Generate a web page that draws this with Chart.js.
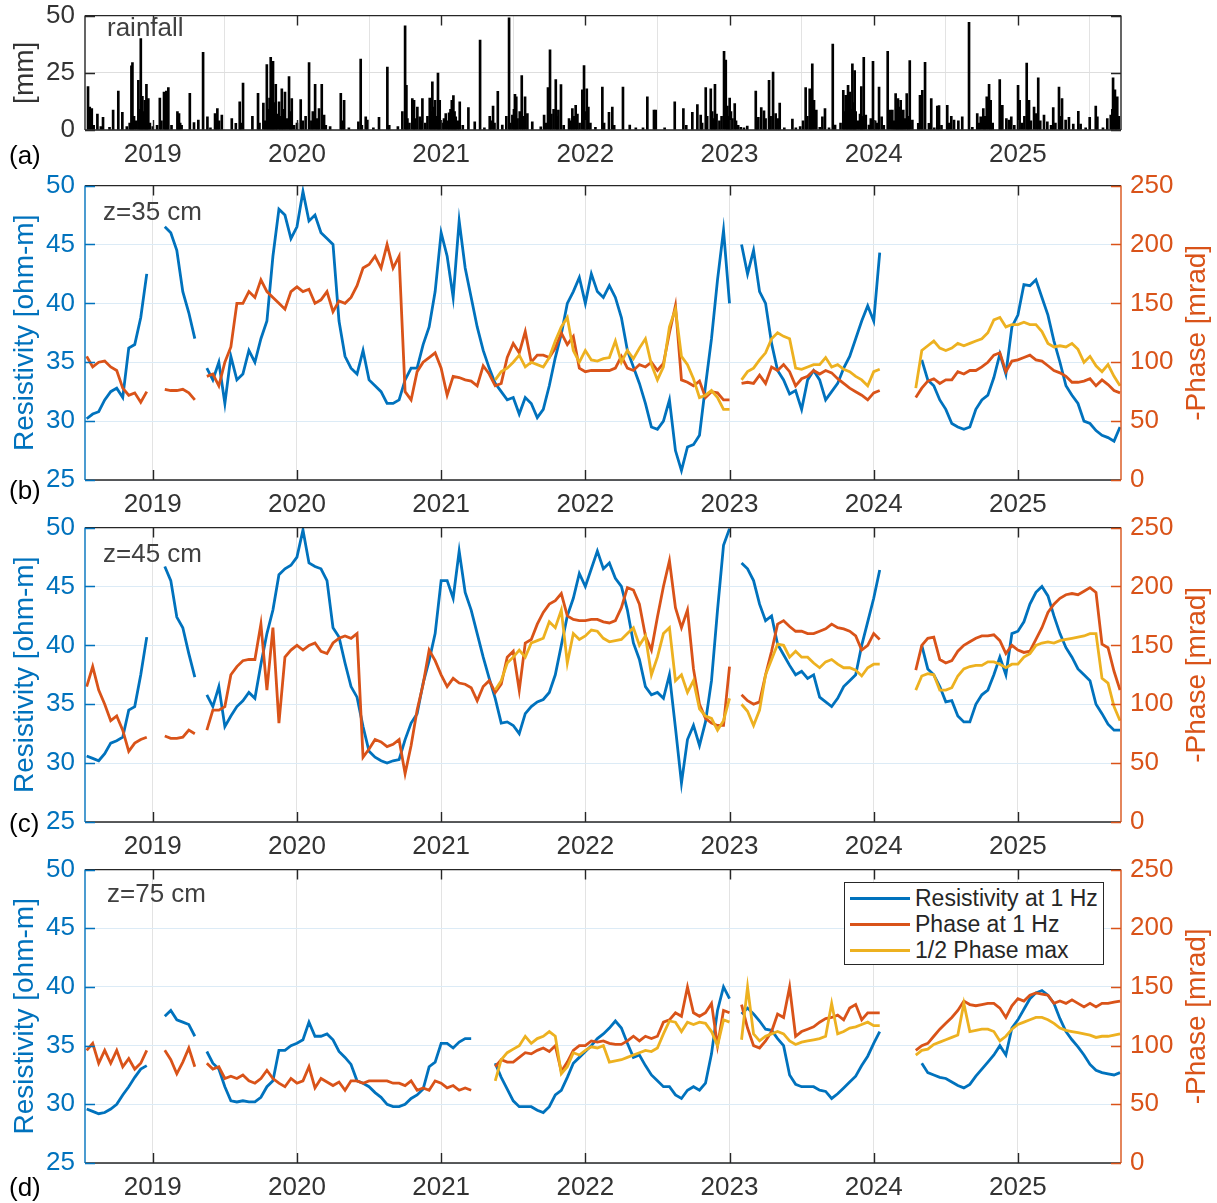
<!DOCTYPE html>
<html>
<head>
<meta charset="utf-8">
<script src="https://cdn.jsdelivr.net/npm/chart.js@4.4.1/dist/chart.umd.min.js"></script>
<style>
  body { margin: 0; background: #fff; width: 1217px; height: 1203px; position: relative; overflow: hidden;
         font-family: "Liberation Sans", Arial, Helvetica, sans-serif; }
  .panel { position: absolute; left: 0; width: 1217px; }
  .tag { position: absolute; left: 9px; font-size: 26px; line-height: 26px; color: #000; }
  .note { position: absolute; font-size: 26px; line-height: 26px; color: #404040; }
  #legend { position: absolute; left: 844px; top: 882px; width: 258px; height: 81px;
            border: 1px solid #262626; background: #fff; }
  #legend .row { position: absolute; left: 0; height: 26px; display: flex; align-items: center;
                 font-size: 23px; color: #262626; }
  #legend .swatch { display: inline-block; width: 60px; height: 3px; margin: 0 5px 0 5px; }
</style>
</head>
<body>
<div class="panel" style="top:-10px;height:180px"><canvas id="chartA" width="1217" height="180"></canvas></div>
<div class="panel" style="top:160px;height:360px"><canvas id="chartB" width="1217" height="360"></canvas></div>
<div class="panel" style="top:502px;height:360px"><canvas id="chartC" width="1217" height="360"></canvas></div>
<div class="panel" style="top:844px;height:359px"><canvas id="chartD" width="1217" height="359"></canvas></div>

<div class="note" style="left:107px;top:14px">rainfall</div>
<div class="note" style="left:103px;top:198px">z=35 cm</div>
<div class="note" style="left:103px;top:540px">z=45 cm</div>
<div class="note" style="left:107px;top:880px">z=75 cm</div>
<div class="tag" style="top:142px">(a)</div>
<div class="tag" style="top:477px">(b)</div>
<div class="tag" style="top:810px">(c)</div>
<div class="tag" style="top:1174px">(d)</div>
<div id="legend"></div>

<script>
// ---- axes ----
const YEARS = [2019, 2020, 2021, 2022, 2023, 2024, 2025];
const RAIN_TICKS = [0, 25, 50];
const RES_TICKS = [25, 30, 35, 40, 45, 50];
const PHASE_TICKS = [0, 50, 100, 150, 200, 250];
const SERIES_LABELS = ['Resistivity at 1 Hz', 'Phase at 1 Hz', '1/2 Phase max'];

// half-monthly samples, first one at mid-July 2018
const T0 = 2018 + 13 / 24;
const STEP = 1 / 24;
const gap = n => new Array(n).fill(null);

// daily rainfall [decimal year, mm]
const rainDays = [
  [2018.551,19],[2018.563,10],[2018.577,9.4],[2018.59,2],[2018.616,7],[2018.64,1.5],[2018.655,5.5],[2018.70,1.2],
  [2018.725,8.7],[2018.761,17],[2018.789,7.7],[2018.82,1.5],[2018.84,3],[2018.852,28],[2018.859,29.5],[2018.87,6],
  [2018.885,4],[2018.900,21.7],[2018.91,9],[2018.917,40],[2018.923,11],[2018.928,14.7],[2018.935,8],[2018.945,13],
  [2018.95,6],[2018.956,20],[2018.962,9],[2018.969,13.7],[2018.98,3],[2019.00,1.5],[2019.03,2],[2019.049,14],
  [2019.06,4],[2019.078,16.6],[2019.085,5],[2019.094,17],[2019.10,8],[2019.108,18.5],[2019.13,2],[2019.171,8],
  [2019.176,5],[2019.182,7.2],[2019.19,3],[2019.20,2],[2019.257,16],[2019.286,3.2],[2019.316,4.3],[2019.349,34],
  [2019.379,5.8],[2019.40,1],[2019.432,7.2],[2019.44,5],[2019.448,9.4],[2019.46,4],[2019.479,6.5],[2019.548,5],
  [2019.576,2.9],[2019.603,12.3],[2019.61,3],[2019.626,20.5],[2019.691,6],[2019.730,16],[2019.74,3],[2019.767,11.8],
  [2019.78,4],[2019.791,28.6],[2019.80,9],[2019.81,14],[2019.818,31.8],[2019.826,17],[2019.834,30],[2019.84,12],
  [2019.853,20],[2019.86,7],[2019.876,12.3],[2019.885,6],[2019.895,18],[2019.905,9],[2019.917,16.6],[2019.93,5],
  [2019.945,23.4],[2019.955,8],[2019.964,13.7],[2019.98,2],[2020.00,3],[2020.026,13.3],[2020.04,4],[2020.06,6],
  [2020.084,29.5],[2020.10,4],[2020.11,8],[2020.126,20],[2020.14,5],[2020.153,9.4],[2020.172,20],[2020.188,6.5],
  [2020.20,2],[2020.23,1.5],[2020.304,16],[2020.315,4],[2020.327,13],[2020.36,1],[2020.426,3.6],[2020.442,31],
  [2020.45,2],[2020.477,5.8],[2020.488,4.3],[2020.53,1],[2020.569,5.5],[2020.627,27.5],[2020.64,2],[2020.70,1.5],
  [2020.731,8],[2020.75,45.5],[2020.759,19.5],[2020.766,5],[2020.78,3],[2020.80,13.7],[2020.812,13],[2020.82,5],
  [2020.835,10],[2020.852,5.8],[2020.86,4],[2020.87,13.7],[2020.89,3],[2020.905,6],[2020.921,14],[2020.93,8],
  [2020.939,21],[2020.948,10],[2020.958,13],[2020.968,6],[2020.978,24.9],[2020.985,9],[2020.99,13],[2021.01,3],
  [2021.02,5],[2021.032,7.2],[2021.045,4],[2021.055,7.5],[2021.065,9],[2021.074,13],[2021.085,15],[2021.093,8],
  [2021.101,5.8],[2021.115,4],[2021.129,12.3],[2021.15,2],[2021.189,9.8],[2021.233,3.6],[2021.27,39.3],[2021.30,1],
  [2021.337,6],[2021.345,4],[2021.36,10.4],[2021.37,3],[2021.393,16.9],[2021.424,2.2],[2021.452,6],[2021.471,49],
  [2021.48,3],[2021.494,6.5],[2021.505,9],[2021.512,15.6],[2021.521,14.5],[2021.53,5],[2021.545,8],[2021.559,23.8],
  [2021.57,6],[2021.582,14.5],[2021.598,7.2],[2021.632,3.6],[2021.691,1.4],[2021.714,6.5],[2021.725,3],[2021.741,18.5],
  [2021.755,35],[2021.765,7],[2021.78,9],[2021.795,22],[2021.805,6],[2021.813,8.7],[2021.831,19.8],[2021.85,2],
  [2021.887,5],[2021.90,4],[2021.91,9.4],[2021.92,6],[2021.933,10.8],[2021.945,7],[2021.96,3],[2021.979,17.6],
  [2021.991,28.2],[2022.00,8],[2022.01,18],[2022.021,10],[2022.035,3],[2022.07,1.2],[2022.118,18.8],[2022.13,3],
  [2022.164,7.7],[2022.187,10],[2022.20,2],[2022.261,18.8],[2022.308,2.2],[2022.35,1],[2022.40,1],[2022.43,14.5],
  [2022.476,8.7],[2022.488,8.7],[2022.55,1],[2022.62,12.3],[2022.68,9.4],[2022.70,2],[2022.742,7.7],[2022.777,11.1],
  [2022.80,6.5],[2022.81,3],[2022.835,18.5],[2022.845,6],[2022.87,18],[2022.88,8],[2022.89,5],[2022.899,20],
  [2022.91,7],[2022.93,4],[2022.945,6],[2022.962,34.4],[2022.974,30.6],[2022.985,10.4],[2022.993,6],[2023.001,14],
  [2023.01,8],[2023.02,5],[2023.036,11.6],[2023.045,4],[2023.06,2],[2023.078,1.2],[2023.10,1],[2023.123,1.7],
  [2023.182,17],[2023.19,4],[2023.20,5.5],[2023.22,9.8],[2023.239,8.4],[2023.25,5],[2023.274,21.7],[2023.285,6],
  [2023.302,25.3],[2023.32,7.2],[2023.335,5],[2023.348,11.8],[2023.38,1],[2023.436,4.8],[2023.46,1],[2023.49,1.5],
  [2023.51,4],[2023.528,18.5],[2023.54,6],[2023.556,18],[2023.565,8],[2023.574,28.9],[2023.586,13],[2023.602,8.7],
  [2023.626,1.2],[2023.644,5.8],[2023.662,9.4],[2023.69,1],[2023.716,37.6],[2023.732,2.2],[2023.77,3],[2023.789,17.3],
  [2023.795,8],[2023.806,15.2],[2023.815,10],[2023.822,19.5],[2023.834,16.6],[2023.84,9],[2023.852,28.9],[2023.86,12],
  [2023.868,26],[2023.875,8],[2023.89,4],[2023.905,7],[2023.914,19],[2023.92,6],[2023.931,31.8],[2023.945,6.5],
  [2023.967,2.2],[2023.98,5],[2023.995,30],[2024.01,4],[2024.025,3],[2024.037,18.8],[2024.055,5.8],[2024.07,2],
  [2024.097,34.4],[2024.113,8.7],[2024.129,8.7],[2024.14,4],[2024.152,15.9],[2024.16,9],[2024.168,13.7],[2024.178,10],
  [2024.187,13],[2024.195,7],[2024.205,8.7],[2024.215,5],[2024.229,15.9],[2024.24,6],[2024.25,30.3],[2024.268,4.3],
  [2024.309,2.9],[2024.321,15.2],[2024.337,17.3],[2024.356,29.6],[2024.383,2.9],[2024.399,13.7],[2024.42,1],[2024.441,10.4],
  [2024.453,10.7],[2024.47,2],[2024.51,10.8],[2024.52,3],[2024.538,6],[2024.557,4.3],[2024.587,4],[2024.614,5.8],
  [2024.661,47.1],[2024.684,1.2],[2024.718,7.2],[2024.73,3],[2024.742,5.8],[2024.76,9.4],[2024.77,6],[2024.784,14.5],
  [2024.80,20],[2024.811,13],[2024.825,3],[2024.874,22],[2024.882,8],[2024.892,10.8],[2024.92,5],[2024.938,4.3],
  [2024.954,5.8],[2024.975,2],[2025.001,19.5],[2025.012,13],[2025.03,3],[2025.045,6],[2025.061,29.2],[2025.07,10],
  [2025.077,13],[2025.09,4],[2025.112,10],[2025.128,7.2],[2025.141,22.8],[2025.155,4],[2025.181,6.5],[2025.204,3.6],
  [2025.23,2],[2025.245,9.8],[2025.26,3],[2025.285,18.8],[2025.295,6],[2025.306,13.7],[2025.331,4.3],[2025.354,5.5],
  [2025.384,2.6],[2025.419,8.2],[2025.435,2.6],[2025.47,1],[2025.498,5.5],[2025.54,10.4],[2025.551,5.8],[2025.59,1],
  [2025.62,5],[2025.644,6.5],[2025.655,9],[2025.66,22.8],[2025.673,17.6],[2025.68,8],[2025.689,14.5],[2025.70,6]
];

// ---- z = 35 cm ----
const resB = [
  30.2, 30.6, 30.8, 31.8, 32.5, 32.8, 32.0, 36.2, 36.5, 38.8,
  42.5, null, null, 46.5, 46.0, 44.5, 41, 39.2, 37, null,
  34.5, 33.5, 35, 31.5, 35.5, 33.5, 34, 36, 35, 37,
  38.5, 44, 48, 47.5, 45.5, 46.5, 49.5, 47, 47.5, 46,
  45.5, 45, 38.5, 35.5, 34.5, 34, 36, 33.5, 33, 32.5,
  31.5, 31.5, 31.8, 33.5, 34.5, 34.5, 36.5, 38, 41, 46,
  44, 40.5, 47, 43, 40.5, 38, 36, 34.5, 33.2, 32.5,
  31.8, 32, 30.6, 32, 31.5, 30.3, 31, 33, 35.4, 37.4,
  40, 41, 42.2, 40, 42.5, 41, 40.5, 41.5, 40.5, 38.8,
  36, 34.6, 33.2, 31.5, 29.5, 29.3, 30, 31.8, 27.5, 25.8,
  27.8, 28, 28.8, 33, 37, 42, 46.2, 40, null, 45,
  42.5, 44.5, 41, 40, 36.6, 34.3, 33.5, 32.3, 32.6, 31,
  33.5, 34.3, 33.5, 31.8, 32.5, 33.2, 34.5, 35.5, 37, 38.5,
  39.8, 38.5, 44.3, null, null, null, null, null, null, 35.2,
  33.5, 33, 31.8, 31, 29.8, 29.5, 29.3, 29.5, 31, 31.8,
  32.2, 33.7, 35.7, 34, 38, 39, 41.6, 41.5, 42, 40.5,
  39, 36.8, 35, 33, 32.2, 31.5, 30, 29.8, 29.2, 28.8,
  28.6, 28.3, 29.5
];
const phB = [
  105, 96, 100, 101, 96, 93, 78, 72, 74, 66,
  75, null, null, 77, 76, 76, 77, 74, 68, null,
  88, 90, 80, 100, 113, 150, 150, 160, 155, 170,
  160, 155, 150, 145, 160, 164, 160, 162, 150, 153,
  160, 143, 152, 150, 155, 165, 180, 183, 190, 180,
  200, 180, 190, 75, 68, 92, 100, 104, 108, 95,
  72, 88, 87, 85, 84, 80, 97, 90, 80, 82,
  104, 116, 108, 126, 100, 106, 106, 104, 112, 125,
  115, 122, 95, 92, 93, 93, 93, 93, 95, 105,
  95, 93, 98, 96, 100, 93, 99, 125, 148, 85,
  83, 80, 84, 70, 75, 74, 68, 68, null, 82,
  83, 82, 89, 82, 96, 93, 98, 92, 80, 86,
  88, 93, 90, 93, 91, 86, 82, 78, 75, 72,
  68, 74, 76, null, null, null, null, null, 70, 78,
  84, 86, 82, 85, 85, 92, 90, 93, 93, 96,
  100, 106, 108, 92, 101, 102, 104, 106, 102, 101,
  97, 93, 91, 88, 83, 83, 84, 86, 80, 85,
  81, 76, 74
];
const halfMaxB = [
  ...gap(68), 85, 92,
  95, 100, 106, 96, 100, 98, 96, 104, 118, 130,
  138, 110, 100, 110, 102, 101, 103, 104, 118, 100,
  110, 103, 112, 120, 98, 85, 96, 130, 145, 105,
  98, 86, 70, 72, 76, 70, 60, 60, null, 85,
  92, 95, 102, 108, 120, 125, 122, 120, 95, 94,
  96, 98, 98, 104, 96, 98, 94, 92, 88, 85,
  80, 92, 94, null, null, null, null, null, 78, 110,
  114, 118, 112, 110, 112, 116, 114, 116, 118, 120,
  125, 136, 138, 130, 132, 132, 134, 132, 132, 126,
  116, 113, 114, 113, 116, 111, 100, 105, 97, 92,
  98, 88, 80
];

// ---- z = 45 cm ----
const resC = [
  30.6, 30.4, 30.2, 30.8, 31.7, 31.9, 32.2, 34.5, 34.8, 37.5,
  40.7, null, null, 46.7, 45.5, 42.4, 41.5, 39.3, 37.3, null,
  35.8, 34.8, 36.5, 33.1, 34, 34.8, 35.3, 36, 35.5, 38.4,
  41, 43, 46, 46.5, 46.8, 47.5, 49.8, 47, 46.7, 46.5,
  45.5, 41.5, 40.7, 38.5, 36.5, 35.6, 33.1, 31, 30.5, 30.2,
  30, 30.2, 30.3, 32, 33.4, 34.2, 36.8, 38.7, 41, 45.5,
  45.5, 44, 48, 44.5, 43, 41, 39, 37.2, 35.5, 33.4,
  33.5, 33.2, 32.5, 34.2, 34.8, 35.2, 35.4, 36, 37.5, 40,
  42.5, 44, 46.1, 45, 46.5, 48, 46.5, 47, 45.7, 45,
  43, 40.2, 38.8, 36.5, 35.8, 36, 35.5, 37.5, 33, 28.3,
  32, 33.2, 31.5, 33.5, 37, 43, 48.5, 49.9, null, 47,
  46.5, 45.5, 43.5, 42.1, 42.5, 40.1, 39.2, 38.3, 37.5, 37.8,
  37.2, 37.5, 35.6, 35.2, 34.8, 35.5, 36.5, 37, 37.5, 40,
  42, 44, 46.4, null, null, null, null, null, null, 40,
  38, 37.5, 36.5, 35.2, 35.3, 34, 33.5, 33.5, 35, 35.8,
  36.2, 37.5, 39, 37.5, 41, 41.2, 42, 43.5, 44.5, 45,
  44.2, 42.5, 41, 39.8, 39, 38, 37.5, 37, 35, 34.2,
  33.3, 32.8, 32.8
];
const phC = [
  115, 132, 112, 100, 86, 90, 78, 60, 67, 70,
  72, null, null, 73, 71, 71, 72, 78, 75, null,
  78, 95, 95, 98, 125, 132, 137, 138, 138, 168,
  112, 165, 84, 140, 146, 150, 146, 150, 152, 145,
  143, 152, 156, 158, 156, 160, 55, 62, 70, 68,
  64, 66, 70, 41, 65, 95, 117, 146, 137, 125,
  115, 122, 118, 117, 114, 103, 115, 120, 110, 117,
  140, 145, 112, 152, 155, 168, 178, 185, 188, 194,
  175, 172, 171, 171, 172, 172, 170, 169, 171, 182,
  199, 197, 185, 158, 146, 174, 200, 222, 182, 165,
  180, 130, 100, 88, 84, 82, 82, 132, null, 108,
  103, 100, 102, 125, 145, 168, 171, 166, 162, 162,
  160, 160, 162, 164, 168, 165, 164, 162, 158, 146,
  150, 160, 155, null, null, null, null, null, 129, 150,
  156, 157, 138, 135, 137, 145, 150, 153, 156, 158,
  158, 159, 154, 143, 150, 146, 144, 145, 155, 165,
  178, 185, 190, 193, 194, 193, 196, 199, 195, 151,
  148, 128, 112
];
const halfMaxC = [
  ...gap(68), 112, 120,
  135, 140, 146, 140, 152, 154, 156, 170, 165, 180,
  135, 160, 155, 158, 163, 162, 156, 153, 154, 155,
  160, 165, 150, 158, 125, 140, 160, 165, 120, 125,
  110, 120, 96, 90, 88, 78, 86, 105, null, 100,
  94, 82, 95, 125, 138, 151, 150, 140, 145, 140,
  140, 135, 131, 136, 138, 134, 131, 131, 129, 124,
  131, 134, 134, null, null, null, null, null, 112, 124,
  126, 125, 112, 112, 114, 124, 130, 132, 133, 133,
  136, 136, 134, 131, 134, 134, 140, 143, 150, 152,
  153, 152, 154, 155, 156, 157, 158, 160, 160, 122,
  118, 98, 86
];

// ---- z = 75 cm ----
const resD = [
  29.6, 29.4, 29.2, 29.3, 29.6, 30, 30.8, 31.5, 32.3, 33,
  33.3, null, null, 37.5, 38, 37.2, 37, 36.8, 35.8, null,
  34.5, 33.5, 33, 31.5, 30.3, 30.2, 30.3, 30.2, 30.2, 30.6,
  31.5, 32, 34.6, 34.6, 35, 35.2, 35.5, 37, 35.8, 35.8,
  36, 35.5, 34.5, 34, 33.4, 32, 31.8, 31.5, 31, 30.6,
  30, 29.8, 29.8, 30, 30.5, 30.8, 31.3, 33.2, 33.6, 35.2,
  35.2, 34.8, 35.3, 35.6, 35.6, null, null, null, 33.5, 32.3,
  31.3, 30.3, 29.8, 29.8, 29.8, 29.5, 29.3, 29.8, 30.8, 31.2,
  32.3, 33.5, 34, 34.5, 35, 35.6, 36, 36.5, 37.1, 36.5,
  35.2, 34, 34.2, 33.3, 32.5, 32, 31.5, 31.5, 30.8, 30.5,
  31.2, 31.5, 31.2, 31.8, 34.3, 38, 40, 39, null, 37.7,
  38.2, 37.7, 37.1, 36.4, 36.3, 35.6, 35, 32.5, 31.7, 31.5,
  31.5, 31.5, 31.2, 31.1, 30.5, 30.9, 31.4, 31.9, 32.4, 33.3,
  34.1, 35.2, 36.2, null, null, null, null, null, null, 33.5,
  32.7, 32.5, 32.3, 32.2, 31.9, 31.6, 31.4, 31.7, 32.4, 33,
  33.6, 34.2, 35, 34.2, 36.5, 37.2, 38.1, 39, 39.5, 39.7,
  39.3, 38.6, 37.3, 36.2, 35.5, 34.9, 34.2, 33.4, 32.9, 32.7,
  32.6, 32.5, 32.7
];
const phD = [
  96, 102, 85, 96, 85, 96, 82, 89, 80, 85,
  96, null, null, 96, 88, 76, 86, 98, 82, null,
  85, 80, 82, 72, 74, 72, 75, 70, 68, 72,
  79, 72, 68, 65, 72, 68, 70, 82, 64, 72,
  69, 66, 69, 62, 70, 70, 68, 70, 70, 70,
  70, 68, 68, 66, 70, 62, 64, 62, 70, 68,
  64, 66, 62, 64, 62, null, null, null, 82, 88,
  86, 86, 90, 94, 93, 96, 98, 95, 100, 78,
  86, 96, 100, 100, 104, 103, 104, 102, 101, 101,
  104, 108, 104, 108, 106, 108, 120, 122, 128, 125,
  150, 128, 125, 128, 136, 100, 130, 128, null, 135,
  115, 100, 98, 104, 112, 127, 124, 150, 108, 112,
  114, 116, 120, 123, 124, 126, 122, 132, 135, 122,
  128, 128, 128, null, null, null, null, null, 96, 100,
  102, 108, 114, 119, 124, 130, 138, 135, 134, 135,
  136, 136, 132, 124, 134, 140, 138, 143, 145, 144,
  143, 136, 138, 136, 139, 136, 133, 136, 133, 136,
  136, 137, 138
];
const halfMaxD = [
  ...gap(68), 70, 88,
  94, 97, 100, 108, 102, 106, 108, 112, 108, 76,
  82, 94, 92, 96, 99, 98, 100, 86, 87, 88,
  90, 92, 94, 96, 95, 98, 110, 121, 120, 112,
  120, 118, 120, 119, 112, 100, 122, 120, null, 105,
  150, 110, 104, 108, 110, 112, 110, 104, 101, 103,
  104, 105, 106, 108, 136, 110, 112, 115, 116, 118,
  120, 117, 117, null, null, null, null, null, 92, 96,
  97, 101, 103, 105, 107, 109, 136, 112, 113, 114,
  114, 112, 104, 108, 114, 118, 120, 122, 124, 124,
  122, 119, 115, 113, 112, 111, 110, 109, 107, 108,
  108, 109, 110
];

// ---- styling ----
const BLUE = '#0072BD', ORANGE = '#D95319', YELLOW = '#EDB120', DARK = '#262626', TXT = '#333333';
const FONT = '"Liberation Sans", Arial, Helvetica, sans-serif';
Chart.defaults.font.family = FONT;
Chart.defaults.font.size = 26;
Chart.defaults.color = TXT;

const toPoints = vals => vals.map((v, i) => ({ x: T0 + i * STEP, y: v }));
const fixTicks = list => scale => { scale.ticks = list.map(v => ({ value: v })); };

// MATLAB-like box: edges + inward tick marks, plus the right-hand title
const matBox = {
  id: 'matBox',
  afterDatasetsDraw(chart, args, opts) {
    const { ctx, chartArea: a, scales } = chart;
    const len = 10;
    ctx.save();
    ctx.lineWidth = 1.4;
    ctx.strokeStyle = DARK;
    ctx.beginPath();
    scales.x.ticks.forEach(t => {
      const px = Math.round(scales.x.getPixelForValue(t.value)) + 0.5;
      ctx.moveTo(px, a.bottom); ctx.lineTo(px, a.bottom - len);
      ctx.moveTo(px, a.top); ctx.lineTo(px, a.top + len);
    });
    ctx.moveTo(a.left, a.top); ctx.lineTo(a.right, a.top);
    ctx.moveTo(a.left, a.bottom); ctx.lineTo(a.right, a.bottom);
    ctx.stroke();

    const side = (scale, x, dir, color) => {
      ctx.strokeStyle = color;
      ctx.beginPath();
      ctx.moveTo(x, a.top); ctx.lineTo(x, a.bottom);
      scale.ticks.forEach(t => {
        const py = Math.round(scale.getPixelForValue(t.value)) + 0.5;
        ctx.moveTo(x, py); ctx.lineTo(x + dir * len, py);
      });
      ctx.stroke();
    };
    side(scales.y, a.left, 1, opts.left);
    side(scales.y1 || scales.y, a.right, -1, opts.right);

    if (opts.rightTitle) {
      ctx.translate(chart.width - 20, (a.top + a.bottom) / 2);
      ctx.rotate(-Math.PI / 2);
      ctx.font = '28px ' + FONT;
      ctx.fillStyle = opts.right;
      ctx.textAlign = 'center';
      ctx.textBaseline = 'middle';
      ctx.fillText(opts.rightTitle, 0, 0);
    }
    ctx.restore();
  }
};

function xAxis() {
  return {
    type: 'linear', min: 2018.53, max: 2025.715, offset: false,
    afterBuildTicks: fixTicks(YEARS),
    afterFit: s => { s.height = 40; },
    grid: { color: '#e3e3e3', lineWidth: 1, drawTicks: false },
    border: { display: false },
    ticks: { padding: 9, maxRotation: 0, autoSkip: false, color: TXT, callback: v => String(v) }
  };
}

// ---- (a) rainfall ----
new Chart(document.getElementById('chartA'), {
  type: 'bar',
  data: {
    datasets: [{
      data: rainDays.map(([x, y]) => ({ x, y })),
      backgroundColor: '#000', borderWidth: 0, barThickness: 2
    }]
  },
  options: {
    responsive: false, animation: false, events: [],
    layout: { padding: { top: 15, right: 96, left: 0, bottom: 0 } },
    plugins: { legend: { display: false }, tooltip: { enabled: false },
               matBox: { left: DARK, right: DARK } },
    scales: {
      x: xAxis(),
      y: {
        min: 0, max: 50,
        afterBuildTicks: fixTicks(RAIN_TICKS),
        afterFit: s => { s.width = 85; },
        grid: { color: '#dedede', drawTicks: false },
        border: { display: false },
        ticks: { padding: 10, color: TXT },
        title: { display: true, text: '[mm]', color: TXT, font: { size: 28 }, padding: { top: 8, bottom: 0 } }
      }
    }
  },
  plugins: [matBox]
});

// ---- (b)-(d) resistivity / phase ----
function makePanel(id, res, ph, halfMax) {
  const line = (label, vals, color, axis, order) => ({
    label, data: toPoints(vals), borderColor: color, backgroundColor: color,
    borderWidth: 2.8, pointRadius: 0, tension: 0, spanGaps: false, yAxisID: axis, order
  });
  return new Chart(document.getElementById(id), {
    type: 'line',
    data: {
      datasets: [
        line(SERIES_LABELS[0], res, BLUE, 'y', 2),
        line(SERIES_LABELS[1], ph, ORANGE, 'y1', 1),
        line(SERIES_LABELS[2], halfMax, YELLOW, 'y1', 0)
      ]
    },
    options: {
      responsive: false, animation: false, events: [],
      layout: { padding: { top: 15, right: 0, left: 0, bottom: 0 } },
      plugins: { legend: { display: false }, tooltip: { enabled: false },
                 matBox: { left: BLUE, right: ORANGE, rightTitle: '-Phase [mrad]' } },
      scales: {
        x: xAxis(),
        y: {
          position: 'left', min: 25, max: 50,
          afterBuildTicks: fixTicks(RES_TICKS),
          afterFit: s => { s.width = 85; },
          grid: { color: '#dcebf6', drawTicks: false },
          border: { display: false },
          ticks: { padding: 10, color: BLUE },
          title: { display: true, text: 'Resistivity [ohm-m]', color: BLUE, font: { size: 28 },
                   padding: { top: 8, bottom: 0 } }
        },
        y1: {
          position: 'right', min: 0, max: 250,
          afterBuildTicks: fixTicks(PHASE_TICKS),
          afterFit: s => { s.width = 96; },
          grid: { display: false, drawTicks: false },
          border: { display: false },
          ticks: { padding: 9, color: ORANGE }
        }
      }
    },
    plugins: [matBox]
  });
}

makePanel('chartB', resB, phB, halfMaxB);
makePanel('chartC', resC, phC, halfMaxC);
const chartD = makePanel('chartD', resD, phD, halfMaxD);

// legend box inside panel (d)
const legendBox = document.getElementById('legend');
chartD.data.datasets.forEach((ds, i) => {
  const row = document.createElement('div');
  row.className = 'row';
  row.style.top = (2 + i * 26) + 'px';
  row.innerHTML = `<span class="swatch" style="background:${ds.borderColor}"></span><span>${ds.label}</span>`;
  legendBox.appendChild(row);
});
</script>
</body>
</html>
